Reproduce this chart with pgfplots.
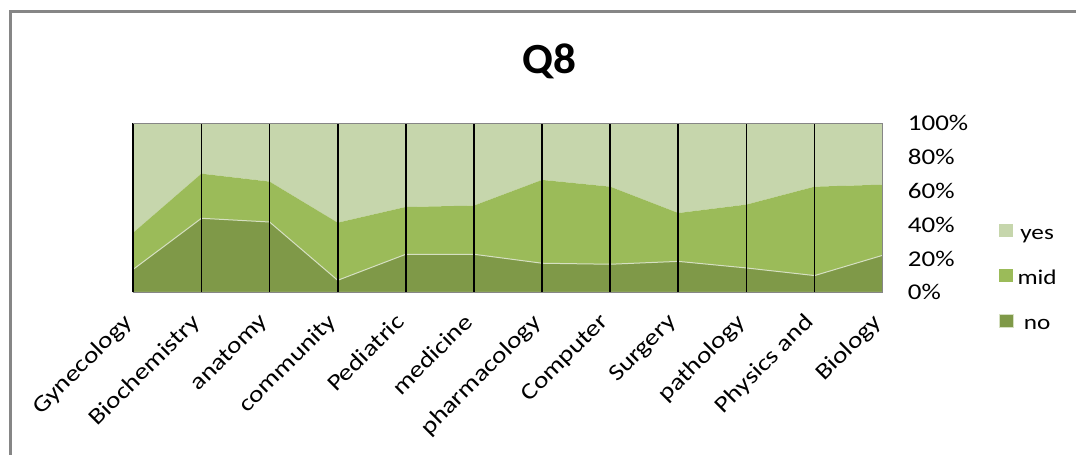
\documentclass[border=0pt]{standalone}
\usepackage{fontspec}
\setmainfont{Carlito}[FakeStretch=1.2]
\newfontfamily\titlefont{Carlito}[FakeStretch=1.05]
\usepackage{pgfplots}
\pgfplotsset{compat=1.18}
\definecolor{cyes}{RGB}{198,214,172}
\definecolor{cmid}{RGB}{155,187,89}
\definecolor{cno}{RGB}{127,153,72}
\definecolor{cedge}{RGB}{214,224,194}
\definecolor{cframe}{RGB}{134,134,134}
\begin{document}
\begin{tikzpicture}
\path[use as bounding box] (0,0) rectangle (1076pt,455pt);
\draw[cframe, line width=3pt] (10.2pt,-2pt) -- (10.2pt,443.3pt) -- (1078pt,443.3pt);
\begin{axis}[
  at={(133.3pt,162.7pt)}, anchor=south west,
  width=749.4pt, height=169pt, scale only axis,
  xmin=0, xmax=11, ymin=0, ymax=100,
  stack plots=y,
  axis on top,
  axis y line*=right,
  axis line style={cframe, line width=1pt},
  xtick={0,...,11},
  xticklabels={Gynecology,Biochemistry,anatomy,community,Pediatric,medicine,pharmacology,Computer,Surgery,pathology,Physics and,Biology},
  minor xtick={0,...,10},
  xminorgrids, minor grid style={black, line width=1.7pt},
  major tick length=0pt, minor tick length=0pt,
  xticklabel style={xshift=-11.5pt, yshift=-19.5pt, rotate=45, anchor=north east, inner sep=0pt, font=\fontsize{23}{27}\selectfont},
  ytick={0,20,40,60,80,100},
  yticklabels={0\%,20\%,40\%,60\%,80\%,100\%},
  yticklabel pos=right,
  yticklabel style={anchor=west, inner sep=0pt, xshift=25pt, font=\fontsize{22.5}{27}\selectfont},
  title={Q8},
  title style={at={(0.5547,1.258)}, anchor=base, inner sep=0pt, font=\titlefont\bfseries\fontsize{43}{50}\selectfont},
  legend style={at={(1.1543,0.08)}, anchor=west, draw=none, fill=none, inner sep=0pt, row sep=26pt,
    font=\fontsize{21}{25}\selectfont,
    nodes={text height=14pt, text depth=4pt, inner sep=0pt},
    /tikz/every odd column/.style={column sep=4pt}},
  legend image code/.code={\fill[#1] (0pt,-3pt) rectangle (14pt,10pt);},
  reverse legend,
]
\addplot[fill=cno, draw=cedge, line width=1pt] coordinates {
  (0,13.6) (1,43.8) (2,41.6) (3,7.1) (4,22.5) (5,22.5) (6,17.2) (7,16.6) (8,18.3) (9,14.4) (10,9.9) (11,21.9)
} \closedcycle;
\addlegendentry{no}
\addplot[fill=cmid, draw=none] coordinates {
  (0,21.7) (1,26.4) (2,23.9) (3,34.1) (4,28.0) (5,28.8) (6,49.3) (7,45.9) (8,28.6) (9,37.5) (10,52.6) (11,41.8)
} \closedcycle;
\addlegendentry{mid}
\addplot[fill=cyes, draw=none] coordinates {
  (0,64.7) (1,29.8) (2,34.5) (3,58.8) (4,49.5) (5,48.7) (6,33.5) (7,37.5) (8,53.1) (9,48.1) (10,37.5) (11,36.3)
} \closedcycle;
\addlegendentry{yes}
\end{axis}
\end{tikzpicture}
\end{document}
